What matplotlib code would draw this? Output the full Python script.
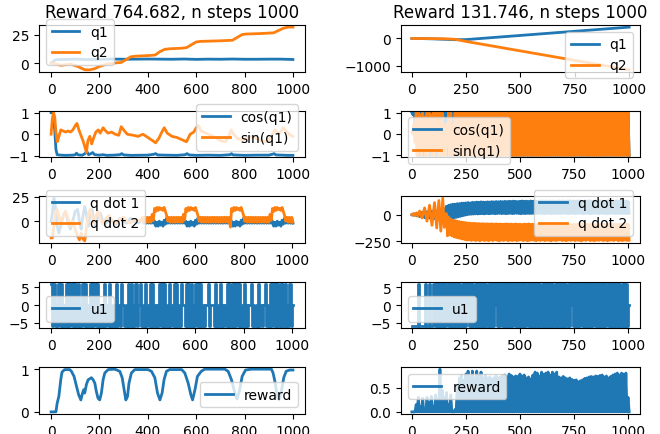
import matplotlib
matplotlib.use('Agg')
import matplotlib.pyplot as plt

plt.rcParams['lines.linewidth'] = 2.0

# ---------- left run (reward 764.682) ----------
q1_l_t = [0, 10, 20, 50, 100, 150, 200, 250, 300, 350, 400, 450, 500, 550, 600, 650, 700, 750, 800, 850, 900, 950, 1000]
q1_l = [0, 1.5, 3.0, 3.1, 3.4, 3.0, 3.2, 3.5, 3.3, 3.4, 3.5, 3.4, 3.3, 3.5, 3.2, 3.4, 3.3, 3.5, 3.3, 3.3, 3.4, 3.4, 3.1]

q2_l_t = [0, 20, 40, 80, 110, 140, 160, 180, 200, 230, 260, 290, 310, 330, 350, 400, 430, 450, 470, 490,
          540, 560, 580, 600, 620, 700, 750, 770, 790, 810, 860, 920, 940, 960, 980, 1000]
q2_l = [0, -1, -2, -1, -3, -6, -6, -5, -3, -1, 0, 0.5, 3, 5.5, 6, 6.5, 7, 10, 12, 12.5,
        13, 13.5, 16, 18.5, 19, 19.5, 20, 22.5, 25, 25.5, 25.8, 26.5, 28.5, 30.5, 31.5, 31.5]

cos_l_t = [0, 5, 10, 15, 20, 25, 40, 60, 90, 100, 105, 112, 130, 140, 148, 155, 165, 172, 180, 200,
           215, 230, 260, 285, 292, 300, 330, 400, 425, 432, 440, 470, 520, 555, 562, 570, 600, 650,
           700, 740, 746, 752, 800, 850, 900, 915, 922, 930, 980, 1000]
cos_l = [1, 1, 0.9, 0.2, -0.7, -0.95, -0.97, -0.98, -0.97, -0.95, -0.88, -0.96, -0.97, -0.9, -0.8, -0.95,
         -0.9, -0.85, -0.95, -0.97, -0.95, -0.98, -0.97, -0.95, -0.9, -0.96, -0.98, -0.97, -0.93, -0.9,
         -0.96, -0.97, -0.98, -0.95, -0.9, -0.96, -0.98, -0.97, -0.98, -0.95, -0.9, -0.96, -0.98, -0.97,
         -0.97, -0.93, -0.9, -0.96, -0.98, -0.98]

sin_l_t = [0, 5, 10, 15, 20, 25, 30, 40, 50, 60, 70, 80, 90, 100, 107, 115, 125, 132, 140, 146, 152, 160,
           168, 175, 185, 195, 203, 215, 222, 235, 250, 265, 280, 290, 300, 315, 340, 360, 380, 400, 420,
           432, 445, 458, 468, 480, 500, 520, 540, 560, 575, 590, 600, 610, 620, 650, 680, 700, 720, 735,
           745, 752, 770, 790, 810, 830, 850, 870, 890, 905, 915, 925, 935, 945, 960, 975, 990, 1000]
sin_l = [0, 0.7, 1.0, 0.8, 0.1, -0.35, -0.2, 0.2, 0.15, 0.1, 0.15, 0.1, 0.2, 0.4, 0.5, 0.2, -0.1, -0.3,
         -0.6, -0.85, -0.3, -0.1, -0.45, -0.2, 0.1, 0.2, 0.05, 0.3, 0.2, 0.05, 0.1, 0.0, -0.05, 0.35, 0.2,
         0.0, -0.05, -0.1, 0.0, -0.15, -0.3, -0.4, -0.2, 0.1, 0.3, 0.05, -0.1, -0.15, -0.25, -0.35, 0.0,
         0.1, 0.3, 0.4, 0.15, 0.0, -0.15, -0.3, -0.35, -0.1, 0.2, 0.05, -0.2, -0.25, -0.2, -0.1, -0.2,
         -0.3, -0.35, -0.2, 0.0, 0.2, 0.1, 0.05, 0.3, 0.1, -0.05, -0.1]

# q dot: irregular start, then a noisy band (hi / lo every 10 steps from 380)
qd_l_t = [0, 5, 12, 18, 25, 32, 40, 50, 60, 70, 80, 90, 100, 110, 118, 125, 132, 140, 148, 155, 162, 170,
          178, 185, 195, 205, 215, 225, 240, 255, 270, 285, 300, 315, 330, 345, 360, 375]
qd1_l = [0, 8, 23.5, 15, -5, -12, -5, 5, 10, 0, -8, 0, 10, 12, 0, -8, 5, 15, 5, -5, 8, 12,
         0, -5, 5, 8, 0, -3, 3, 0, -3, 3, 0, -2, 3, 0, -2, 1]
qd2_l = [-17, -17, -5, 8, 12, 5, -2, 5, 10, 3, -5, 0, -8, -15, -19, -12, -18, -20, -5, 8, 12, 5,
         -2, 5, 10, 3, -3, 2, 6, 0, -2, 2, 4, 0, -2, 2, 1, 1]
qd1_l_hi = [3] * 5 + [0, -1, 0, -1, 1] + [3] * 8 + [0, -1, 0, -1, 1] + [3] * 14 + [0, -1, 0, -1, 1] + [3] * 12 + [0, -1, 0, -1, 1] + [3] * 4
qd1_l_lo = [-2] * 5 + [-5, -5, -4, -5, -3] + [-2] * 8 + [-5, -5, -4, -5, -3] + [-2] * 14 + [-5, -5, -4, -5, -3] + [-2] * 12 + [-5, -5, -4, -5, -3] + [-2] * 4
qd2_l_hi = ([4] * 4 + [7] + [13, 14, 14, 13, 14] + [6] + [4] * 6 + [7] + [13, 14, 14, 13, 14] + [6] + [4] * 12
            + [4] + [13, 14, 14, 13, 14] + [6] + [4] * 10 + [7] + [13, 14, 14, 13, 14] + [6] + [4] * 3)
qd2_l_lo = ([-1] * 4 + [1] + [10, 11, 12, 11, 10] + [0] + [-1] * 6 + [1] + [10, 11, 12, 11, 10] + [0] + [-1] * 12
            + [-6] + [10, 11, 12, 11, 10] + [0] + [-1] * 10 + [1] + [10, 11, 12, 11, 10] + [0] + [-1] * 3)

# u1 every 10 steps: upper and lower value of the switching
u1_l_hi = [6, 6, 0, 6, 6, 0, 6, 6, 6, 6,
           6, 6, 0, 6, 6, 0, 6, 6, 6, 6,
           0, 0, 6, 0, 6, 0, 0, 6, 0, 6,
           0, 0, 6, 6, 0, 6, 0, 6, 0, 6,
           0, 6, 6, 0, 0, 6, 6, 6, 0, 6,
           0, 6, 6, 0, 6, 0, 6, 6, 6, 0,
           6, 6, 6, 0, 0, 6, 0, 0, 6, 0,
           6, 0, 0, 6, 6, 6, 6, 6, 6, 0,
           6, 0, 0, 6, 0, 0, 6, 0, 0, 6,
           0, 6, 6, 6, 6, 6, 6, 6, 0, 6,
           0]
u1_l_lo = [-6, -6, -6, -6, -6, -6, -6, -6, -6, -6,
           -6, -6, -6, -6, -6, -6, -6, -6, -6, -6,
           -6, -6, -6, -6, -6, -6, -6, -6, -6, 0,
           -6, -6, -6, -6, -6, -6, 0, -6, -6, -6,
           -6, -6, -6, -6, -6, -6, -6, -6, -6, -6,
           -6, -6, -6, -6, 0, -6, -6, -6, -6, -6,
           -6, -6, -6, -6, 0, -6, 0, -6, -6, -6,
           -6, -6, -6, -6, -6, -6, -6, -6, -6, -6,
           -6, -6, 0, -6, -6, -6, -6, -6, 0, -6,
           -6, -6, -6, -6, -6, -6, -6, -6, -6, -6,
           0]

rw_l_t = [0, 20, 25, 32, 40, 45, 56, 77, 84, 95, 105, 114, 123, 130, 135, 139, 146, 153, 167, 174, 181,
          187, 194, 201, 208, 215, 222, 236, 263, 284, 294, 302, 309, 316, 322, 332, 346, 400, 415, 429,
          440, 450, 459, 467, 477, 490, 540, 553, 567, 578, 585, 595, 605, 621, 635, 718, 732, 746, 760,
          769, 780, 790, 804, 828, 911, 918, 927, 935, 943, 951, 962, 972, 986, 1000]
rw_l = [0, 0, 0.2, 0.36, 0.75, 0.93, 0.99, 0.99, 0.95, 0.83, 0.6, 0.4, 0.28, 0.44, 0.52, 0.44, 0.64,
        0.75, 0.8, 0.75, 0.67, 0.48, 0.32, 0.28, 0.44, 0.75, 0.91, 0.99, 1.0, 0.95, 0.8, 0.52, 0.28,
        0.36, 0.67, 0.91, 0.99, 0.99, 0.95, 0.8, 0.44, 0.28, 0.44, 0.75, 0.95, 0.99, 0.99, 0.91, 0.67,
        0.4, 0.28, 0.52, 0.83, 0.95, 1.0, 1.0, 0.95, 0.75, 0.44, 0.3, 0.52, 0.83, 0.98, 1.0, 1.0, 0.91,
        0.67, 0.36, 0.28, 0.44, 0.8, 0.95, 0.98, 0.98]

# ---------- right run (reward 131.746) ----------
q_r_t = [0, 50, 100, 150, 200, 250, 300, 400, 500, 600, 700, 800, 900, 1000]
q1_r = [0, -5, -15, -30, -45, -40, -10, 52, 113, 175, 236, 297, 359, 420]
q2_r = [0, -2, -5, -10, -30, -110, -180, -320, -460, -600, -740, -880, -1020, -1160]

cos_r_hi = [1] * 101
cos_r_lo = [0.9, 0.4] + [-1] * 99
sin_r_hi = [0.1, 0.5, 1, 1, 0.9, 1, 0.8, 1, 1, 0.9, 1, 1, 1, 1, 1, 0.4, 0.5, 1, 1, 0.4] + [1] * 81
sin_r_lo = [0, -0.4, -1, -0.7, -1, -0.6, -1, -1, -0.8, -1, -1, -0.7, -1, -1, -1, -1, -0.6, -1, -1, -1] + [-1] * 81

qd_r_t = [0, 8, 14, 22, 28, 36, 47, 59, 70, 82, 93, 105, 115, 125, 134, 143, 150]
qd1_r = [0, -5, 8, -10, 12, -18, 22, -28, 28, -32, 34, -36, 36, -38, 38, -30, 30]
qd2_r = [0, 12, -8, 18, -14, 35, -30, 65, -60, 90, -100, 115, -125, 135, -155, 157, -120]
# band from step 160, every 10 steps
qd1_r_hi = [80, 90, 95, 100, 100, 105, 105, 110, 110, 112,
            115, 112, 118, 116, 120, 118, 122, 120, 119, 122,
            121, 124, 122, 125, 123, 126, 124, 127, 125, 128,
            126, 129, 127, 125, 128, 130, 127, 129, 126, 130,
            128, 131, 127, 129, 132, 128, 130, 127, 131, 129,
            130, 128, 132, 129, 131, 127, 130, 133, 129, 131,
            128, 132, 130, 127, 131, 129, 133, 130, 128, 131,
            129, 132, 130, 128, 131, 133, 129, 131, 128, 132,
            130, 128, 131, 129, 126]
qd1_r_lo = [-30, -35, -35, -30, -25, -20, -15, -10, -5, 0,
            3, 5, 6, 8, 7, 9, 10, 8, 11, 9,
            10, 12, 9, 11, 13, 10, 12, 9, 11, 13,
            10, 12, 14, 11, 9, 12, 10, 13, 11, 12,
            13, 10, 12, 14, 11, 9, 12, 13, 10, 12,
            11, 13, 10, 12, 14, 11, 9, 12, 13, 10,
            12, 14, 11, 10, 13, 12, 9, 11, 14, 12,
            10, 13, 12, 11, 9, 12, 14, 10, 12, 11,
            13, 10, 12, 11, 14]
qd2_r_hi = [10, -20, -40, -50, -55, -60, -65, -70, -72, -75,
            -78, -80, -82, -80, -84, -83, -85, -84, -86, -85,
            -87, -85, -88, -86, -89, -87, -90, -88, -86, -89,
            -88, -91, -87, -90, -89, -92, -88, -90, -87, -91,
            -89, -92, -88, -90, -93, -89, -91, -88, -92, -90,
            -91, -89, -93, -90, -88, -92, -89, -91, -94, -90,
            -92, -89, -91, -88, -93, -90, -92, -89, -91, -93,
            -90, -92, -89, -91, -94, -90, -88, -92, -90, -91,
            -89, -92, -90, -88, -91]
qd2_r_lo = [-200, -190, -200, -210, -215, -220, -225, -230, -235, -240,
            -238, -243, -240, -245, -241, -247, -239, -244, -242, -246,
            -240, -245, -238, -243, -247, -241, -244, -239, -246, -242,
            -244, -240, -246, -242, -238, -245, -241, -247, -243, -239,
            -242, -246, -240, -244, -239, -245, -241, -243, -247, -240,
            -245, -241, -238, -244, -242, -246, -240, -243, -239, -245,
            -241, -244, -247, -240, -243, -238, -245, -242, -246, -241,
            -243, -239, -245, -241, -247, -242, -240, -244, -238, -246,
            -242, -245, -240, -243, -241]

u1_r_hi = [-6, -6, -6, 6, -6, -6, 6, -6, 6, -6, 6, 6, 6, 6, 6] + [6] * 85 + [0]
u1_r_lo = [-6] * 15 + [-6] * 10 + [0] + [-6] * 12 + [0] + [-6] * 34 + [0] + [-6] * 26 + [0]

rw_r_hi = [0, 0, 0.15, 0.3, 0.1, 0.28, 0.05, 0.3, 0.2, 0.32,
           0.1, 0.35, 0.25, 0.88, 0.45, 0.3, 0.4, 0.15, 0.35, 0,
           0.05, 0.55, 0.7, 0.75, 0.65, 0.78, 0.84, 0.72, 0.84, 0.7,
           0.84, 0.74, 0.82, 0.7, 0.75, 0.7, 0.72, 0.68, 0.7, 0.74,
           0.7, 0.72, 0.75, 0.76, 0.72, 0.78, 0.75, 0.72, 0.74, 0.73,
           0.78, 0.74, 0.76, 0.7, 0.72, 0.68, 0.76, 0.82, 0.8, 0.74,
           0.82, 0.78, 0.8, 0.82, 0.76, 0.82, 0.78, 0.82, 0.72, 0.7,
           0.73, 0.7, 0.68, 0.7, 0.67, 0.65, 0.66, 0.62, 0.64, 0.66,
           0.69, 0.7, 0.72, 0.73, 0.72, 0.74, 0.73, 0.75, 0.76, 0.72,
           0.74, 0.7, 0.73, 0.76, 0.78, 0.8, 0.76, 0.8, 0.78, 0.8,
           0.3]
rw_r_lo = [0] * 101


def band(start, hi, lo, step=10):
    # alternate between the upper and lower value of a fast oscillation
    x, y = [], []
    for k in range(len(hi)):
        x += [start + k * step, start + k * step + step / 2]
        y += [hi[k], lo[k]]
    return x, y


fig, axs = plt.subplots(5, 2, figsize=(6.6, 4.35), dpi=100,
                        gridspec_kw=dict(width_ratios=[266, 239], left=39 / 660, right=640 / 660,
                                         top=1 - 26 / 435, bottom=1 - 415 / 435, wspace=0.38, hspace=0.82))

# left column
ax = axs[0, 0]
ax.plot(q1_l_t, q1_l, label='q1')
ax.plot(q2_l_t, q2_l, label='q2')
ax.set_title('Reward 764.682, n steps 1000')
ax.legend(loc='lower left')

ax = axs[1, 0]
ax.plot(cos_l_t, cos_l, label='cos(q1)')
ax.plot(sin_l_t, sin_l, label='sin(q1)')
ax.legend(loc='lower right')

ax = axs[2, 0]
x, y = band(380, qd1_l_hi, qd1_l_lo)
ax.plot(qd_l_t + x, qd1_l + y, label='q dot 1')
x, y = band(380, qd2_l_hi, qd2_l_lo)
ax.plot(qd_l_t + x, qd2_l + y, label='q dot 2')
ax.legend(loc='lower left')

ax = axs[3, 0]
x, y = band(0, u1_l_hi, u1_l_lo)
ax.plot(x, y, drawstyle='steps-post', label='u1')
ax.legend(loc='lower left')

ax = axs[4, 0]
ax.plot(rw_l_t, rw_l, label='reward')
ax.legend(loc='lower right')

# right column
ax = axs[0, 1]
ax.plot(q_r_t, q1_r, label='q1')
ax.plot(q_r_t, q2_r, label='q2')
ax.set_title('Reward 131.746, n steps 1000')
ax.legend(loc='upper right')

ax = axs[1, 1]
x, y = band(0, cos_r_hi, cos_r_lo)
ax.plot(x, y, label='cos(q1)')
x, y = band(0, sin_r_hi, sin_r_lo)
ax.plot(x, y, label='sin(q1)')
ax.legend(loc='upper left')

ax = axs[2, 1]
x, y = band(160, qd1_r_hi, qd1_r_lo)
ax.plot(qd_r_t + x, qd1_r + y, label='q dot 1')
x, y = band(160, qd2_r_hi, qd2_r_lo)
ax.plot(qd_r_t + x, qd2_r + y, label='q dot 2')
ax.legend(loc='lower right')

ax = axs[3, 1]
x, y = band(0, u1_r_hi, u1_r_lo)
ax.plot(x, y, drawstyle='steps-post', label='u1')
ax.legend(loc='lower left')

ax = axs[4, 1]
x, y = band(0, rw_r_hi, rw_r_lo)
ax.plot(x, y, label='reward')
ax.legend(loc='upper left')

fig.savefig('out.png', dpi=100)
